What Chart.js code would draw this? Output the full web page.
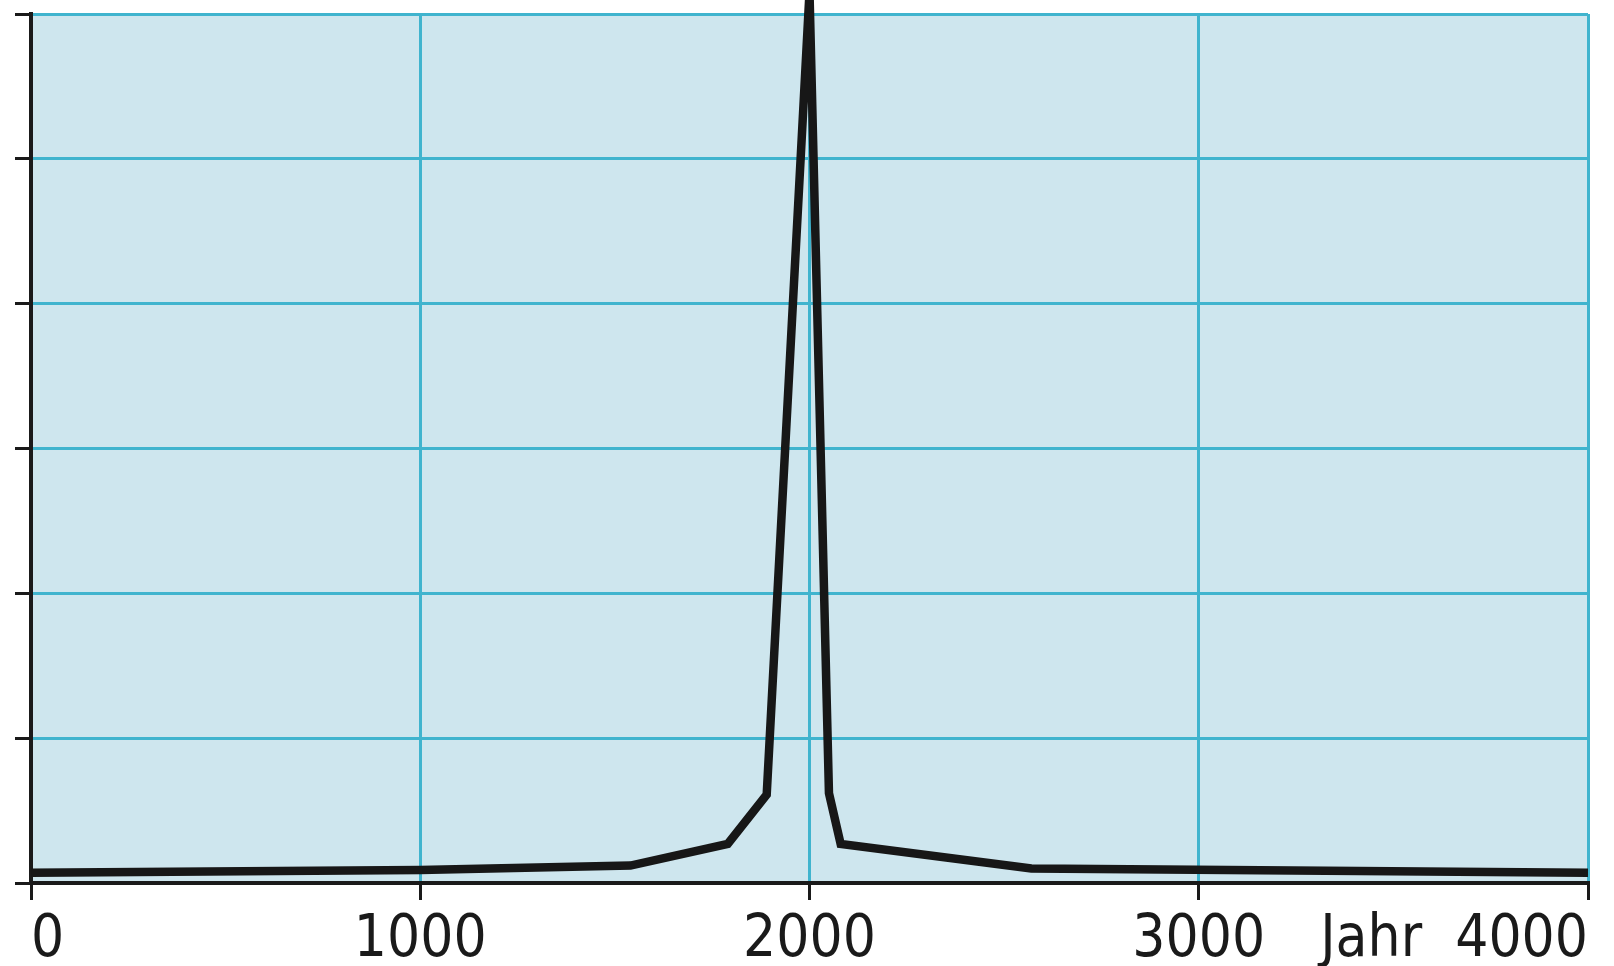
<!DOCTYPE html>
<html>
<head>
<meta charset="utf-8">
<script src="https://cdn.jsdelivr.net/npm/chart.js@4"></script>
<style>
  html, body { margin: 0; padding: 0; background: #fff; overflow: hidden; }
  #wrap { width: 1614px; height: 1000px; }
</style>
</head>
<body>
<div id="wrap"><canvas id="popChart" width="1614" height="1000"></canvas></div>
<script>
// values (y in grid units, peak runs off the top)
const years = [0, 1000, 1540, 1790, 1890, 2000, 2050, 2080, 2570, 4000];
const values = [0.07, 0.09, 0.12, 0.27, 0.61, 6.15, 0.62, 0.27, 0.10, 0.07];
const xTicks = [0, 1000, 2000, 3000, 4000];
const xLabels = ['0', '1000', '2000', '3000', 'Jahr\u00a0\u00a04000'];
const yMax = 6;

const labelFont = "'Liberation Sans Narrow', 'DejaVu Sans Condensed', 'Open Sans', sans-serif";

const plotBg = {
    id: 'plotBg',
    beforeDraw(chart) {
        const a = chart.chartArea;
        const c = chart.ctx;
        c.save();
        c.fillStyle = '#cee6ee';
        c.fillRect(a.left, a.top, a.right - a.left, a.bottom - a.top);
        c.restore();
    }
};

const ctx = document.getElementById('popChart').getContext('2d');
new Chart(ctx, {
    type: 'line',
    data: {
        datasets: [{
            data: years.map((y, i) => ({ x: y, y: values[i] })),
            borderColor: '#171717',
            borderWidth: 8.5,
            pointRadius: 0,
            tension: 0,
            borderJoinStyle: 'miter',
            clip: false
        }]
    },
    options: {
        responsive: false,
        animation: false,
        layout: { padding: { left: 15, right: 26, top: 14, bottom: 18 } },
        plugins: { legend: { display: false }, tooltip: { enabled: false } },
        scales: {
            x: {
                type: 'linear',
                min: 0,
                max: 4000,
                afterBuildTicks: scale => { scale.ticks = xTicks.map(v => ({ value: v })); },
                grid: {
                    color: c => c.tick && c.tick.value === 0 ? 'rgba(0,0,0,0)' : '#40b4ce',
                    lineWidth: 3,
                    tickColor: '#1a1a1a',
                    tickWidth: 3,
                    tickLength: 17
                },
                border: { color: '#1a1a1a', width: 4 },
                ticks: {
                    autoSkip: false,
                    maxRotation: 0,
                    align: 'inner',
                    padding: 12,
                    color: '#1a1a1a',
                    font: { family: labelFont, size: 58, lineHeight: 1 },
                    callback: v => xLabels[xTicks.indexOf(v)]
                }
            },
            y: {
                min: 0,
                max: yMax,
                grid: {
                    color: c => c.tick && c.tick.value === 0 ? 'rgba(0,0,0,0)' : '#40b4ce',
                    lineWidth: 3,
                    tickColor: '#1a1a1a',
                    tickWidth: 3,
                    tickLength: 16
                },
                border: { color: '#1a1a1a', width: 4 },
                ticks: { stepSize: 1, display: false }
            }
        }
    },
    plugins: [plotBg]
});
</script>
</body>
</html>
